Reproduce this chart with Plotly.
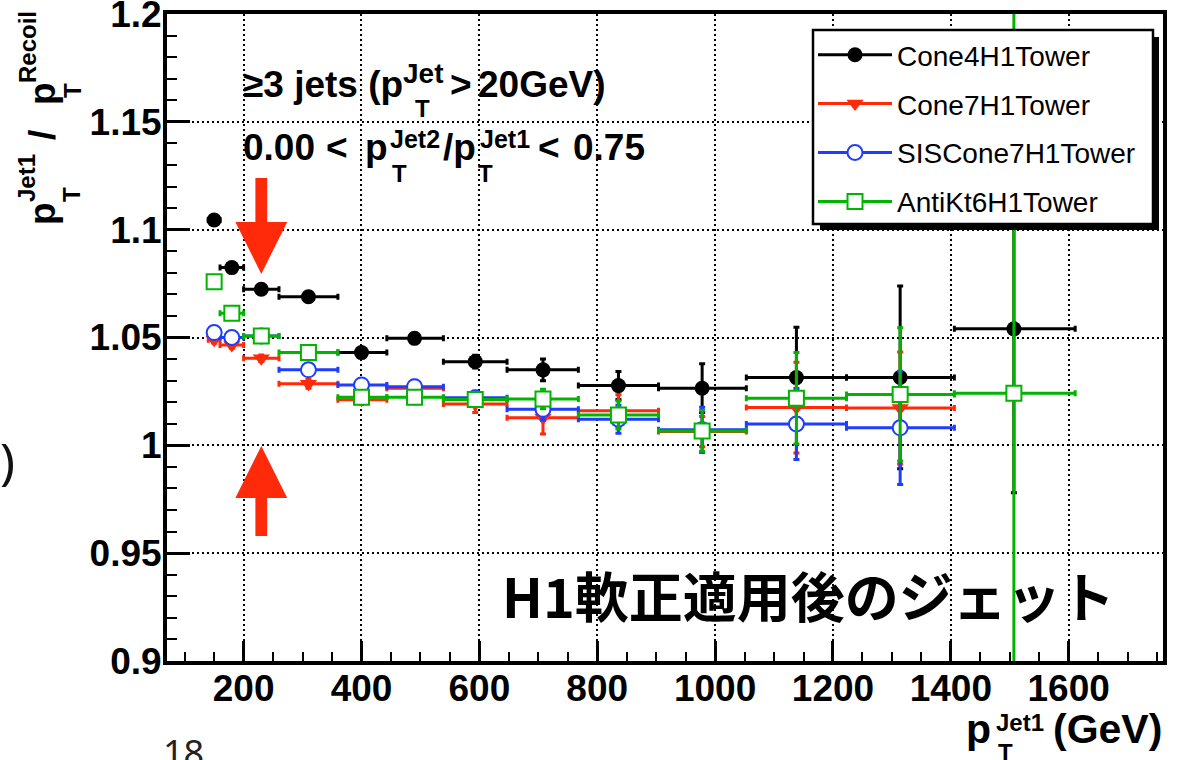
import plotly.graph_objects as go

# ---------------- data ----------------
x_center = [150, 180, 230, 310, 400, 490, 593, 708, 836, 978, 1138, 1314, 1507]
x_low = [140, 160, 200, 260, 360, 443, 539, 647, 768, 904, 1053, 1223, 1406]
x_high = [160, 200, 260, 360, 443, 539, 647, 768, 904, 1053, 1223, 1406, 1611]

cone4_y = [1.1045, 1.0824, 1.0724, 1.0689, 1.0430, 1.0496, 1.0388, 1.0350, 1.0277, 1.0265, 1.0314, 1.0315, 1.0540]
cone4_err = [0.001, 0.0015, 0.0015, 0.0015, 0.002, 0.002, 0.003, 0.005, 0.0065, 0.0113, 0.0233, 0.0424, 0.076]

cone7_y = [1.0489, 1.0465, 1.0404, 1.0285, 1.0211, 1.0265, 1.0192, 1.0128, 1.0160, 1.0064, 1.0175, 1.0173]
cone7_err = [0.0015, 0.0015, 0.0015, 0.002, 0.002, 0.003, 0.004, 0.0075, 0.0075, 0.007, 0.021, 0.026]

siscone7_y = [1.0523, 1.0500, 1.0507, 1.0350, 1.0280, 1.0272, 1.0221, 1.0167, 1.0121, 1.0072, 1.0099, 1.0081]
siscone7_err = [0.0015, 0.0015, 0.0015, 0.002, 0.002, 0.003, 0.003, 0.005, 0.0065, 0.0105, 0.0165, 0.0263]

antikt6_y = [1.0759, 1.0612, 1.0507, 1.0430, 1.0223, 1.0223, 1.0213, 1.0215, 1.0141, 1.0067, 1.0218, 1.0236, 1.0241]
antikt6_err = [0.0015, 0.002, 0.002, 0.002, 0.002, 0.003, 0.003, 0.0045, 0.0065, 0.0094, 0.0212, 0.0309, 0.35]

series_names = ["Cone4H1Tower", "Cone7H1Tower", "SISCone7H1Tower", "AntiKt6H1Tower"]

x_range = [70, 1760]
y_range = [0.9, 1.2000001]

# ---------------- layout geometry (pixels) ----------------
W, H = 1181, 760
L, R, T, B = 167, 1163, 14, 661

def px(xp):
    return (xp - L) / (R - L)

def py(yp):
    return (B - yp) / (B - T)

FONT_B = "Liberation Sans"
RED = "#ff2a0a"
BLUE = "#1f3dff"
GREEN = "#00b400"

styles = [
    dict(color="black", marker=dict(symbol="circle", size=15, color="black")),
    dict(color=RED, marker=dict(symbol="triangle-down", size=15, color=RED)),
    dict(color=BLUE, marker=dict(symbol="circle", size=15, color="white", line=dict(width=2, color=BLUE))),
    dict(color=GREEN, marker=dict(symbol="square", size=15, color="white", line=dict(width=2, color=GREEN))),
]
values = [(cone4_y, cone4_err), (cone7_y, cone7_err), (siscone7_y, siscone7_err), (antikt6_y, antikt6_err)]

fig = go.Figure()
for name, st, (yv, ev) in zip(series_names, styles, values):
    n = len(yv)
    xc = x_center[:n]
    fig.add_trace(go.Scatter(
        x=xc, y=yv, mode="markers", name=name, showlegend=False,
        marker=st["marker"],
        error_x=dict(type="data", symmetric=False,
                     array=[h - c for h, c in zip(x_high[:n], xc)],
                     arrayminus=[c - l for c, l in zip(xc, x_low[:n])],
                     color=st["color"], thickness=3, width=3),
        error_y=dict(type="data", array=ev, color=st["color"], thickness=3, width=3),
    ))

# legend-only entries (line + marker)
for i, (name, st) in enumerate(zip(series_names, styles)):
    fig.add_trace(go.Scatter(
        x=[None], y=[None], mode="lines+markers", name=name,
        line=dict(color=st["color"], width=3), marker=st["marker"],
        legendgroup="g%d" % i, showlegend=True,
    ))

# ---------------- annotations ----------------
ann = []

def htext(text, left, baseline, size, bold=True, family=FONT_B, color="black"):
    center = baseline - 0.3465 * size
    t = "<b>%s</b>" % text if bold else text
    ann.append(dict(text=t, x=px(left), y=py(center), xref="paper", yref="paper",
                    xanchor="left", yanchor="middle", showarrow=False,
                    borderpad=0, borderwidth=0,
                    font=dict(family=family, size=size, color=color)))

def vtext(text, cx, cy, size):
    ann.append(dict(text="<b>%s</b>" % text, x=px(cx), y=py(cy), xref="paper", yref="paper",
                    xanchor="center", yanchor="middle", showarrow=False, textangle=-90,
                    borderpad=0, borderwidth=0,
                    font=dict(family=FONT_B, size=size, color="black")))

# line 1: >=3 jets (pT^Jet>20GeV)
htext("≥3 jets (p", 243, 97, 37)
htext("Jet", 403, 83, 28)
htext("T", 415, 117, 24)
htext(">", 450, 97, 37)
htext("20GeV)", 478, 97, 37)
# line 2: 0.00 < pT^Jet2/pT^Jet1 < 0.75
htext("0.00", 243, 160, 37)
htext("<", 326, 160, 37)
htext("p", 365, 160, 37)
htext("Jet2", 390, 148, 25)
htext("T", 392, 182, 24)
htext("/p", 443, 160, 37)
htext("Jet1", 480, 148, 25)
htext("T", 478, 182, 24)
htext("<", 538, 160, 37)
htext("0.75", 573, 160, 37)

# x-axis title
htext("p", 966, 743, 41)
htext("Jet1", 996, 731, 24)
htext("T", 998, 761, 24)
htext("(GeV)", 1053, 743, 41)

# y-axis title (rotated)
vtext("p", 42, 214, 37)
vtext("Jet1", 27, 178, 24)
vtext("T", 72, 195, 24)
vtext("/", 42, 135, 37)
vtext("p", 42, 94, 37)
vtext("Recoil", 27, 47, 24)
vtext("T", 72, 91, 24)

# Japanese label
htext("H1軟正適用後のジェット", 502, 613, 54, family="Noto Sans CJK JP")

# slide leftovers
htext("18", 163, 765, 36, bold=False, family="Noto Sans", color="#222222")
htext(")", 0, 477, 50, bold=False, family="Noto Sans", color="#111111")

# ---------------- arrows (data coords) ----------------
arrow_x = 230
shaft_half, head_half = 10, 44
def arrow_path(y_tail, y_head_base, y_tip):
    return ("M {a},{t} L {b},{t} L {b},{hb} L {c},{hb} L {m},{tip} L {d},{hb} L {e},{hb} L {e},{t} Z"
            .format(a=arrow_x - shaft_half, b=arrow_x + shaft_half, c=arrow_x + head_half,
                    d=arrow_x - head_half, e=arrow_x - shaft_half, m=arrow_x,
                    t=y_tail, hb=y_head_base, tip=y_tip))

shapes = [
    dict(type="path", path=arrow_path(1.124, 1.1036, 1.0795), xref="x", yref="y",
         fillcolor=RED, line=dict(width=0), layer="above"),
    dict(type="path", path=arrow_path(0.958, 0.9756, 0.9997), xref="x", yref="y",
         fillcolor=RED, line=dict(width=0), layer="above"),
    # legend shadow and box
    dict(type="rect", xref="paper", yref="paper", x0=px(820), x1=px(1159), y0=py(230), y1=py(37),
         fillcolor="black", line=dict(width=0), layer="above"),
    dict(type="rect", xref="paper", yref="paper", x0=px(813), x1=px(1153), y0=py(224), y1=py(30),
         fillcolor="white", line=dict(width=2.5, color="black"), layer="above"),
]

fig.update_layout(
    width=W, height=H,
    margin=dict(l=L, r=W - R, t=T, b=H - B, autoexpand=False),
    paper_bgcolor="white", plot_bgcolor="white",
    font=dict(family=FONT_B, color="black"),
    annotations=ann, shapes=shapes,
    legend=dict(x=px(813), y=py(30), xanchor="left", yanchor="top",
                bgcolor="rgba(0,0,0,0)", borderwidth=0,
                font=dict(family=FONT_B, size=28, color="black"),
                tracegroupgap=9.5, traceorder="grouped", itemwidth=74),
    showlegend=True,
)

fig.update_xaxes(
    range=x_range, showline=True, linewidth=4, linecolor="black", mirror=True,
    tick0=0, dtick=200, ticks="inside", ticklen=20, tickwidth=2.5, tickcolor="black",
    tickfont=dict(family=FONT_B, size=37, color="black"), tickprefix="<b>", ticksuffix="</b>",
    showgrid=True, gridcolor="black", gridwidth=1.5, griddash="2px,3px", zeroline=False,
    minor=dict(dtick=50, tick0=0, ticks="inside", ticklen=9, tickwidth=2, tickcolor="black", showgrid=False),
    ticklabelstandoff=-8, ticklabeloverflow="allow", automargin=False,
)
fig.update_yaxes(
    range=y_range, showline=True, linewidth=4, linecolor="black", mirror=True,
    tick0=0.9, dtick=0.05, ticks="inside", ticklen=23, tickwidth=2.5, tickcolor="black",
    tickfont=dict(family=FONT_B, size=37, color="black"), tickprefix="<b>", ticksuffix="</b>",
    showgrid=True, gridcolor="black", gridwidth=1.5, griddash="2px,3px", zeroline=False,
    minor=dict(dtick=0.01, tick0=0.9, ticks="inside", ticklen=10, tickwidth=2, tickcolor="black", showgrid=False),
    ticklabelstandoff=-6, ticklabeloverflow="allow", automargin=False,
)

fig.write_html("out.html")
